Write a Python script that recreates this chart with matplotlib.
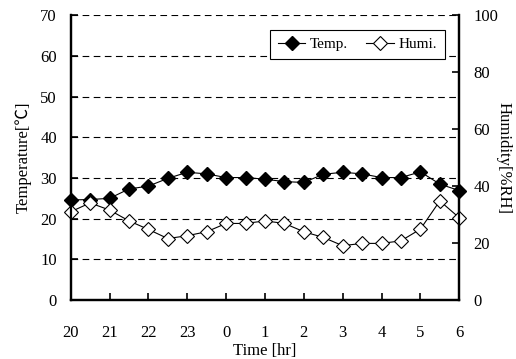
import numpy as np
import matplotlib.pyplot as plt

# half-hourly readings from 20:00 to 6:00
hours = np.arange(0, 10.5, 0.5)
hour_labels = ['20', '21', '22', '23', '0', '1', '2', '3', '4', '5', '6']
temp = [24.6, 24.7, 25.0, 27.3, 28.0, 29.9, 31.4, 31.0, 30.1, 30.1, 29.7,
        29.1, 28.9, 30.9, 31.4, 31.0, 30.1, 30.1, 31.5, 28.5, 26.9]
humi = [31.0, 34.1, 31.6, 27.8, 24.8, 21.6, 22.6, 24.0, 26.9, 26.9, 27.8,
        26.9, 24.0, 22.0, 19.1, 19.9, 19.9, 20.8, 24.9, 34.8, 28.9]

plt.rcParams['font.family'] = ['Liberation Serif', 'Noto Sans CJK JP']
plt.rcParams['font.size'] = 12

fig = plt.figure(figsize=(5.16, 3.59), dpi=100)
ax = fig.add_axes([0.137, 0.164, 0.753, 0.794])
ax2 = ax.twinx()

l1, = ax.plot(hours, temp, color='black', lw=0.8, marker='D', ms=7.5,
              mfc='black', mec='black', clip_on=False, label='Temp.')
l2, = ax2.plot(hours, humi, color='black', lw=0.8, marker='D', ms=7.5,
               mfc='white', mec='black', mew=0.8, clip_on=False, label='Humi.')

ax.set_xlim(0, 10)
ax.set_ylim(0, 70)
ax2.set_ylim(0, 100)
ax.set_xticks(range(11))
ax.set_xticklabels(hour_labels)
ax.set_yticks(range(0, 71, 10))
ax2.set_yticks(range(0, 101, 20))

ax.yaxis.grid(True, color='black', lw=0.8, linestyle=(0, (6, 4)))
ax.set_axisbelow(True)

for a in (ax, ax2):
    a.spines['top'].set_visible(False)
    for s in ('left', 'right', 'bottom'):
        a.spines[s].set_linewidth(1.6)
ax.tick_params(axis='both', direction='in', length=5, width=1.2)
ax.tick_params(axis='x', pad=18)
ax.tick_params(axis='y', pad=10)
ax2.tick_params(axis='y', direction='in', length=5, width=1.2, pad=10)

ax.set_xlabel('Time [hr]', labelpad=1)
ax.set_ylabel('Temperature[℃]', labelpad=6)
ax2.set_ylabel('Humidity[%RH]', rotation=-90, labelpad=10)

leg = ax2.legend([l1, l2], ['Temp.', 'Humi.'], loc='upper right',
                 bbox_to_anchor=(0.982, 0.975), ncol=2, fontsize=11,
                 fancybox=False, edgecolor='black', framealpha=1,
                 handlelength=1.8, columnspacing=1.2, handletextpad=0.3,
                 borderpad=0.5)
leg.get_frame().set_linewidth(0.8)

fig.savefig('out.png', dpi=100)
